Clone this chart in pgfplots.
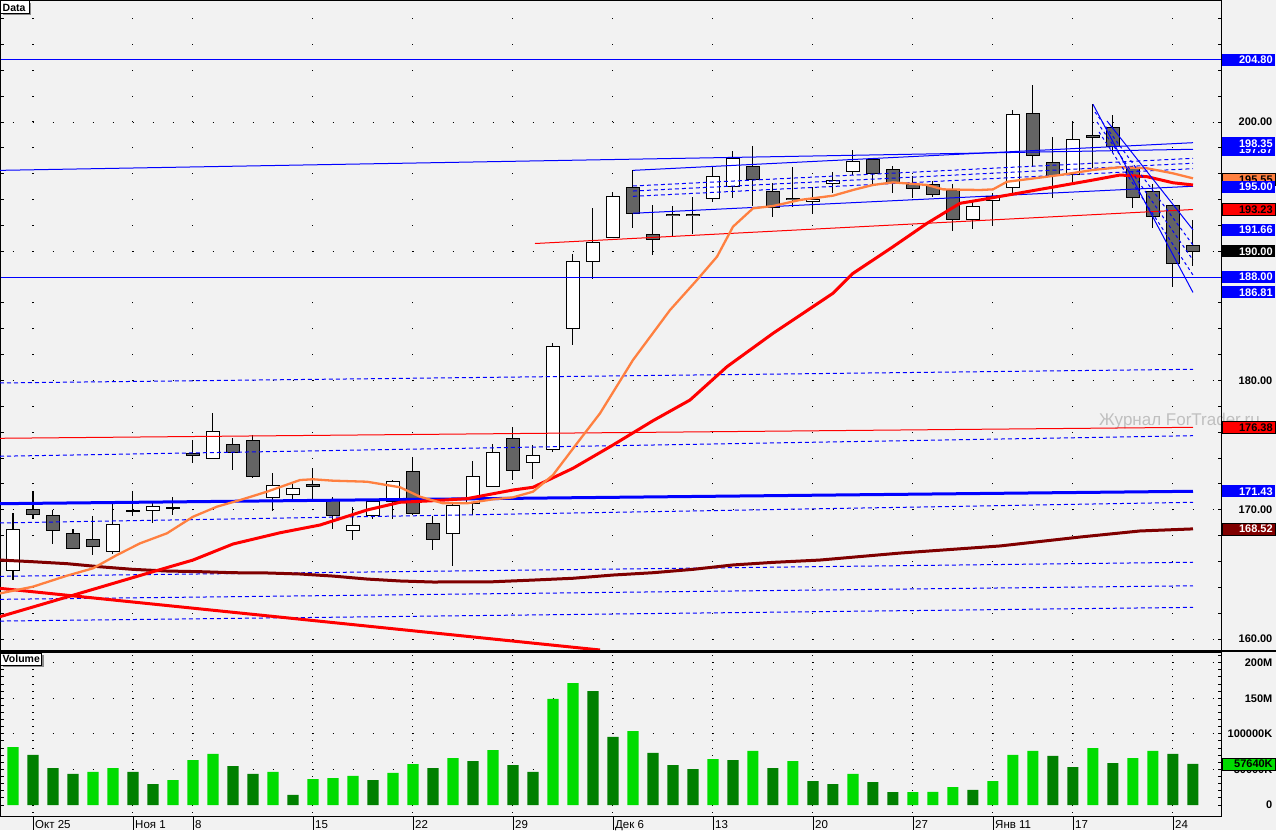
\documentclass[border=0pt]{standalone}
\usepackage{fontspec}
\setmainfont{Liberation Sans}
\usepackage{pgfplots}
\usepackage{pgfplotstable}
\pgfplotsset{compat=1.18}

\definecolor{bg}{RGB}{242,242,242}
\definecolor{candle}{RGB}{100,100,100}
\definecolor{lblue}{RGB}{0,0,255}
\definecolor{ored}{RGB}{255,0,0}
\definecolor{orng}{RGB}{255,128,64}
\definecolor{maroon}{RGB}{128,0,0}
\definecolor{vlight}{RGB}{0,220,0}
\definecolor{vdark}{RGB}{0,128,0}

\newcommand\lblfont{\bfseries\fontsize{11}{12}\selectfont}

\pgfplotsset{
  eb/.style={draw=none, no markers, forget plot,
    error bars/y dir=both, error bars/y explicit, error bars/error mark=none},
}

% daily candles: open high low close
\pgfplotstableread{
i O H L C
0 165.33 169.76 164.58 168.50
1 170.05 171.46 169.30 169.66
2 169.58 170.00 167.39 168.42
3 168.19 168.50 167.00 167.03
4 167.73 169.53 166.51 167.19
5 166.80 170.53 166.59 168.89
6 169.96 171.46 169.50 169.92
7 169.97 170.56 169.00 170.22
8 170.20 171.00 169.60 170.15
9 174.38 175.41 173.65 174.22
10 174.00 177.47 174.00 176.08
11 175.07 175.56 173.11 174.45
12 175.38 175.77 172.45 172.60
13 170.97 172.83 169.94 171.90
14 171.20 172.06 170.69 171.67
15 171.98 173.22 170.69 171.82
16 170.82 171.00 168.52 169.58
17 168.42 170.22 167.70 168.81
18 169.58 170.75 169.28 170.67
19 170.67 172.30 169.28 172.20
20 172.99 174.07 169.60 169.74
21 168.96 169.53 166.92 167.73
22 168.19 170.61 165.68 170.36
23 170.52 173.76 169.60 172.60
24 171.83 175.07 171.80 174.45
25 175.54 176.39 172.29 173.07
26 173.68 175.00 172.37 174.22
27 174.69 182.90 174.48 182.60
28 184.01 189.79 182.75 189.23
29 189.20 193.35 187.86 190.70
30 191.08 194.59 191.00 194.25
31 194.95 196.29 191.80 192.94
32 191.31 193.58 189.71 190.93
33 192.88 193.50 191.18 192.75
34 192.88 194.20 191.34 192.75
35 194.07 196.52 193.84 195.80
36 195.00 197.76 194.12 197.19
37 196.57 198.14 193.50 195.54
38 194.66 195.26 192.68 193.40
39 194.10 196.52 193.43 193.97
40 193.84 194.95 192.88 194.04
41 195.26 196.13 194.53 195.51
42 196.19 197.83 195.92 196.96
43 197.12 197.20 195.10 196.00
44 196.34 196.60 194.53 195.34
45 195.13 195.82 194.15 194.87
46 195.18 195.44 194.22 194.41
47 194.74 195.20 191.59 192.47
48 192.47 193.97 191.75 193.50
49 193.94 194.53 191.98 194.20
50 194.95 200.93 194.49 200.62
51 200.67 202.86 196.54 197.39
52 196.88 198.84 194.15 195.85
53 195.96 199.98 195.38 198.66
54 198.97 201.39 196.42 198.82
55 199.59 200.54 197.58 198.14
56 196.52 196.60 193.32 194.18
57 194.64 195.20 191.83 192.71
58 193.56 193.60 187.26 189.07
59 190.41 192.42 188.88 190.00
}\candles

\begin{document}
\begin{tikzpicture}[
  lbl/.style={anchor=west, inner xsep=2.5pt, inner ysep=0pt, minimum height=12pt,
    text width=48pt, align=right, font=\lblfont},
  dsh/.style={draw=lblue, line width=1pt, dash pattern=on 4pt off 3pt},
  bl/.style={draw=lblue, line width=1pt},
  rl/.style={draw=ored, line width=1pt},
]
\useasboundingbox (0,0) rectangle (1276pt,-830pt);
\fill[bg] (0,0) rectangle (1276pt,-830pt);
\node[anchor=base west, inner sep=0pt, text=black!25, font=\fontsize{17}{17}\selectfont]
  at (1099pt,-425pt) {Журнал ForTrader.ru};

% ---------------- price panel ----------------
\begin{axis}[
  at={(0pt,0pt)}, anchor=north west,
  scale only axis, width=1222pt, height=650pt,
  xmin=-0.65, xmax=60.45, ymin=159.15, ymax=209.44,
  clip mode=individual,
  axis line style={black, line width=1pt},
  xtick={1,6,9,15,20,25,30,35,40,45,49,53,58}, xticklabels={},
  major x tick style={draw=none},
  xmajorgrids, ymajorgrids,
  major x grid style={black, line width=1pt, dash pattern=on 1pt off 24.85pt, dash phase=15.35pt},
  major y grid style={black, line width=1pt, dash pattern=on 1pt off 19pt, dash phase=7.5pt},
  ytick={160,170,180,190,200}, yticklabels={160.00,170.00,180.00,,200.00},
  minor ytick={160,162,...,208},
  ytick pos=both, yticklabel pos=right,
  tick align=inside, major tick length=4pt, minor tick length=4pt,
  tick style={black, line width=1pt},
  yticklabel style={anchor=east, xshift=50.5pt, inner sep=0pt, font=\lblfont},
]
% candles: wicks, outlines, then white and dark bodies
\addplot[eb, error bars/error bar style={draw=black, line width=1pt}]
  table[x=i, y expr={(\thisrow{H}+\thisrow{L})/2},
        y error expr={(\thisrow{H}-\thisrow{L})/2}] {\candles};
\addplot[eb, error bars/error bar style={draw=black, line width=14pt}]
  table[x=i, y expr={(\thisrow{O}+\thisrow{C})/2},
        y error expr={abs(\thisrow{C}-\thisrow{O})/2+0.039}] {\candles};
\addplot[eb, restrict expr to domain={\thisrow{C}-\thisrow{O}}{0:100},
  error bars/error bar style={draw=white, line width=12pt}]
  table[x=i, y expr={(\thisrow{O}+\thisrow{C})/2},
        y error expr={max(abs(\thisrow{C}-\thisrow{O})/2-0.039,0)}] {\candles};
\addplot[eb, restrict expr to domain={\thisrow{O}-\thisrow{C}}{0:100},
  error bars/error bar style={draw=candle, line width=12pt}]
  table[x=i, y expr={(\thisrow{O}+\thisrow{C})/2},
        y error expr={max(abs(\thisrow{C}-\thisrow{O})/2-0.039,0)}] {\candles};

% regression channel (dashed) and levels
\addplot[dsh] coordinates {(-0.65,179.81) (59,180.87)};
\addplot[dsh] coordinates {(-0.65,174.14) (59,175.73)};
\addplot[dsh] coordinates {(-0.65,168.98) (59,170.58)};
\addplot[dsh] coordinates {(-0.65,164.85) (59,165.94)};
\addplot[dsh] coordinates {(-0.65,163.07) (59,164.12)};
\addplot[dsh] coordinates {(-0.65,161.39) (59,162.45)};
\addplot[bl] coordinates {(-0.6,204.80) (30,204.80) (60.4,204.80)};
\addplot[bl] coordinates {(-0.6,188.00) (30,188.00) (60.4,188.00)};
\addplot[bl] coordinates {(-0.65,196.26) (59,197.89)};
\addplot[rl] coordinates {(-0.65,175.53) (59,176.38)};
\addplot[rl] coordinates {(26.1,190.60) (59,193.23)};
\addplot[draw=lblue, line width=3pt] coordinates {(-0.65,170.47) (59,171.43)};
\addplot[draw=ored, line width=3pt] coordinates {(-0.65,163.92) (29.35,159.15)};

% channel from Dec 6
\addplot[bl] coordinates {(31,196.26) (59,198.40)};
\addplot[bl] coordinates {(31,192.94) (59,195.03)};
\addplot[dsh] coordinates {(31,195.05) (59,197.19)};
\addplot[dsh] coordinates {(31,194.66) (59,196.81)};
\addplot[dsh] coordinates {(31,194.25) (59,196.39)};

% moving averages
\addplot[draw=maroon, line width=3pt] coordinates {
(-0.65,166.11) (1,165.98) (2.7,165.83) (4.35,165.59) (6,165.39) (7.7,165.26)
(9.35,165.21) (11,165.13) (12.7,165.11) (14.35,165.03) (16,164.87) (17.7,164.64)
(19.35,164.49) (21,164.41) (24,164.43) (26,164.56) (28,164.70) (30,164.95)
(32,165.13) (34,165.39) (36,165.73) (38,165.93) (40.35,166.11) (44.35,166.65)
(49.35,167.20) (53.35,167.89) (56.35,168.36) (59,168.52)};
\addplot[draw=ored, line width=3pt] coordinates {
(-0.65,161.73) (2.7,163.25) (7,165.21) (9,166.11) (11,167.35) (13.35,168.22)
(15.35,168.82) (17.7,169.98) (19.35,170.58) (21,170.70) (22.7,170.86) (25,171.53)
(26,171.74) (28,173.21) (30,175.01) (32,176.89) (33.85,178.49) (35.7,181.07)
(38,183.65) (41,186.75) (42,188.29) (44,190.35) (45.7,192.16) (47.35,193.71)
(48.35,193.97) (50.7,194.61) (54,195.51) (55.35,195.90) (56.7,195.77) (58,195.30)
(59,195.13)};
\addplot[draw=orng, line width=2.3pt] coordinates {
(-0.65,163.53) (1,164.05) (2.7,164.90) (4,165.47) (5.2,166.50) (6.35,167.40)
(7.7,168.18) (9,169.46) (10.2,170.24) (11.35,170.75) (12.7,171.40) (14.35,172.30)
(15,172.36) (16,172.25) (17.7,172.17) (19.35,171.74) (20.35,171.01) (21.5,170.50)
(22.7,170.50) (24,170.81) (25,170.96) (26,171.40) (27,172.69) (28.2,175.14)
(29.35,177.46) (31,181.59) (32.85,185.45) (34.2,187.78) (35.2,189.58) (36,191.90)
(37,193.32) (38,193.50) (39.35,193.97) (41,194.30) (42,194.74) (43,195.13)
(44,195.33) (45.7,195.13) (46.5,194.79) (48.35,194.74) (49,194.79) (49.7,195.38)
(50.7,195.57) (52.35,195.90) (54,196.29) (55.35,196.50) (56.7,196.42) (58,196.03)
(59,195.64)};

% falling wedge at the end
\addplot[bl] coordinates {(54,201.37) (59,186.81)};
\addplot[bl] coordinates {(54.7,200.08) (59,191.66)};
\addplot[bl, dash pattern=on 3pt off 3pt] coordinates {(54.1,200.77) (59,190.48)};
\addplot[bl, dash pattern=on 3pt off 3pt] coordinates {(54.2,200.00) (59,189.32)};
\addplot[bl, dash pattern=on 3pt off 3pt] coordinates {(54.3,199.23) (59,188.16)};

\coordinate (p2048) at (axis cs:60.45,204.80);
\coordinate (p1979) at (axis cs:60.45,197.87);
\coordinate (p1983) at (axis cs:60.45,198.35);
\coordinate (p1955) at (axis cs:60.45,195.55);
\coordinate (p1950) at (axis cs:60.45,195.00);
\coordinate (p1932) at (axis cs:60.45,193.23);
\coordinate (p1916) at (axis cs:60.45,191.66);
\coordinate (p1900) at (axis cs:60.45,190.00);
\coordinate (p1880) at (axis cs:60.45,188.00);
\coordinate (p1868) at (axis cs:60.45,186.81);
\coordinate (p1763) at (axis cs:60.45,176.38);
\coordinate (p1714) at (axis cs:60.45,171.43);
\coordinate (p1685) at (axis cs:60.45,168.52);
\end{axis}

% ---------------- volume panel ----------------
\begin{axis}[
  at={(0pt,-652pt)}, anchor=north west,
  scale only axis, width=1222pt, height=164pt,
  xmin=-0.65, xmax=60.45, ymin=-15.46, ymax=215,
  clip mode=individual,
  axis line style={black, line width=1pt},
  xtick={1,6,9,15,20,25,30,35,40,45,49,53,58}, xticklabels={},
  major x tick style={draw=none},
  xmajorgrids, ymajorgrids,
  major x grid style={black, line width=1pt, dash pattern=on 1pt off 6.115pt, dash phase=3.73pt},
  major y grid style={black, line width=1pt, dash pattern=on 1pt off 19pt, dash phase=7.5pt},
  ytick={50,100,150,200}, yticklabels={50000K,100000K,150M,200M},
  extra y ticks={0}, extra y tick labels={0}, extra y tick style={grid=none},
  minor ytick={0,10,...,210},
  ytick pos=both, yticklabel pos=right,
  tick align=inside, major tick length=4pt, minor tick length=4pt,
  tick style={black, line width=1pt},
  yticklabel style={anchor=east, xshift=50.5pt, inner sep=0pt, font=\lblfont},
]
\addplot[ybar, bar width=11pt, bar shift=0pt, fill=vlight, draw=none] coordinates {
(0,81.5) (4,46.4) (5,52.0) (8,35.1) (9,63.2) (10,71.7) (13,46.4) (15,36.5)
(16,37.9) (17,40.8) (19,45.0) (20,57.6) (22,66.0) (24,77.3) (27,149.0) (28,171.4)
(31,104.0) (35,64.6) (37,75.9) (39,61.8) (42,43.6) (45,18.2) (46,18.4) (47,25.3)
(49,33.7) (50,70.3) (51,75.9) (54,80.1) (56,66.0) (57,75.9)};
\addplot[ybar, bar width=11pt, bar shift=0pt, fill=vdark, draw=none] coordinates {
(1,70.3) (2,52.0) (3,43.6) (6,46.4) (7,29.5) (11,54.8) (12,43.6) (14,14.1)
(18,35.1) (21,52.0) (23,61.8) (25,56.2) (26,46.4) (29,160.2) (30,95.6) (32,73.1)
(33,56.2) (34,50.6) (36,63.2) (38,52.0) (40,33.7) (41,29.5) (43,32.3) (44,18.0)
(48,21.1) (52,68.9) (53,53.4) (55,59.0) (58,71.7) (59,57.64)};
\coordinate (v576) at (axis cs:60.45,57.64);
\end{axis}

\draw[line width=2pt] (0pt,-651pt) -- (1276pt,-651pt);

% value labels on the price scale
\node[lbl, fill=lblue, text=white] at (p2048) {204.80};
\node[lbl, fill=lblue, text=white] at (p1979) {197.87};
\node[lbl, fill=lblue, text=white] at (p1983) {198.35};
\node[lbl, fill=orng, draw=black, text=black] at (p1955) {195.55};
\node[lbl, fill=lblue, text=white] at (p1950) {195.00};
\node[lbl, fill=ored, draw=black, text=black] at (p1932) {193.23};
\node[lbl, fill=lblue, text=white] at (p1916) {191.66};
\node[lbl, fill=black, text=white] at (p1900) {190.00};
\node[lbl, fill=lblue, text=white] at (p1880) {188.00};
\node[lbl, fill=lblue, text=white] at (p1868) {186.81};
\node[lbl, fill=ored, draw=black, text=black] at (p1763) {176.38};
\node[lbl, fill=lblue, text=white] at (p1714) {171.43};
\node[lbl, fill=maroon, draw=black, text=white] at (p1685) {168.52};
\node[lbl, fill=vlight, draw=black, text=black] at (v576) {57640K};

% panel tags
\fill[black!45] (2.5pt,-2.5pt) rectangle (31pt,-15pt);
\draw[fill=white, line width=0.8pt] (0.5pt,-0.5pt) rectangle (29pt,-13pt);
\node[anchor=base west, inner sep=0pt, font=\bfseries\fontsize{10.5}{12}\selectfont] at (2.5pt,-11pt) {Data};
\fill[black!45] (2.5pt,-655pt) rectangle (43.5pt,-667pt);
\draw[fill=white, line width=0.8pt] (0.5pt,-653pt) rectangle (41.5pt,-665pt);
\node[anchor=base west, inner sep=0pt, font=\bfseries\fontsize{10.5}{12}\selectfont] at (2.5pt,-662.5pt) {Volume};

% date scale
\foreach \p/\t in {33/Окт 25,133/Ноя 1,193/8,313/15,413/22,513/29,613/Дек 6,713/13,
                   813/20,913/27,993/Янв 11,1073/17,1173/24}{
  \draw[line width=1pt] (\p pt,-816pt) -- (\p pt,-830pt);
  \node[anchor=base west, inner sep=0pt, font=\fontsize{11.5}{12}\selectfont]
    at (\p pt+2pt,-828pt) {\t};
}
\end{tikzpicture}
\end{document}
